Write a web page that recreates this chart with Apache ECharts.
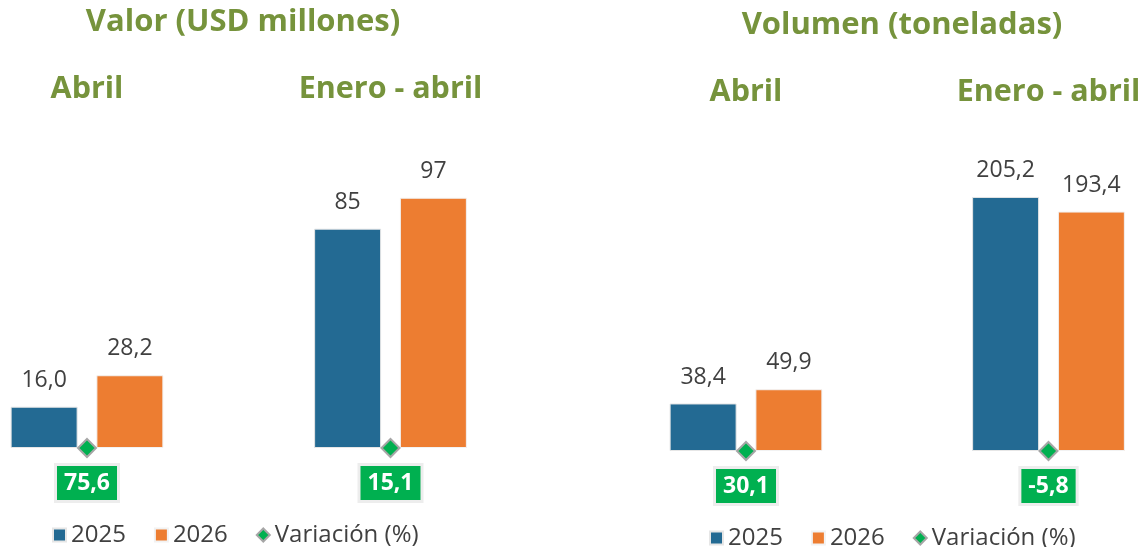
<!DOCTYPE html>
<html>
<head>
<meta charset="utf-8">
<style>
  html, body { margin: 0; padding: 0; background: #fff; }
  #main { width: 1145px; height: 547px; }
</style>
</head>
<body>
<div id="main"></div>
<script src="https://cdn.jsdelivr.net/npm/echarts@6/dist/echarts.min.js"></script>
<script>
// datos
var groups = ['Abril', 'Enero - abril'];
var valor2025 = [16.0, 85];
var valor2026 = [28.2, 97];
var valorVar = [75.6, 15.1];
var valorDecimals = [1, 0];
var volumen2025 = [38.4, 205.2];
var volumen2026 = [49.9, 193.4];
var volumenVar = [30.1, -5.8];
var volumenDecimals = [1, 1];

var BLUE = '#236A93', ORANGE = '#ED7D31', GREEN = '#00B050', TITLE = '#76933C', TEXT = '#404040';
var FONT = 'Open Sans';

function fmt(v, d) {
    return v.toFixed(d).replace('.', ',');
}

var chart = echarts.init(document.getElementById('main'));

// paneles: centro de cada grupo, base, escala
var panels = [
    { centers: [87, 390.5], top: 110, bottom: 99, max: 131,
      a: valor2025, b: valor2026, v: valorVar, dec: valorDecimals },
    { centers: [746, 1048.5], top: 113, bottom: 96, max: 273,
      a: volumen2025, b: volumen2026, v: volumenVar, dec: volumenDecimals }
];

var grids = [], xAxes = [], yAxes = [], series = [];
panels.forEach(function (p) {
    groups.forEach(function (g, i) {
        var idx = grids.length;
        grids.push({ left: p.centers[i] - 85, width: 170, top: p.top, bottom: p.bottom });
        xAxes.push({
            type: 'category', gridIndex: idx, data: [g], position: 'top',
            axisLine: { show: false }, axisTick: { show: false },
            axisLabel: { color: TITLE, fontSize: 30.5, fontWeight: 'bold', fontFamily: FONT, margin: 5 }
        });
        yAxes.push({ type: 'value', gridIndex: idx, min: 0, max: p.max, show: false, splitLine: { show: false } });
        var lbl = function (d) {
            return {
                show: true, position: 'top', distance: 15, color: TEXT, fontSize: 23, fontFamily: FONT,
                formatter: function () { return fmt(d, p.dec[i]); }
            };
        };
        series.push({
            name: '2025', type: 'bar', xAxisIndex: idx, yAxisIndex: idx,
            data: [p.a[i]], barWidth: 67, barGap: '28%',
            itemStyle: { color: BLUE, borderColor: '#E6E6E6', borderWidth: 1 },
            label: lbl(p.a[i])
        });
        series.push({
            name: '2026', type: 'bar', xAxisIndex: idx, yAxisIndex: idx,
            data: [p.b[i]], barWidth: 67, barGap: '28%',
            itemStyle: { color: ORANGE, borderColor: '#F2F2F2', borderWidth: 1 },
            label: lbl(p.b[i])
        });
        series.push({
            name: 'Variación (%)', type: 'scatter', xAxisIndex: idx, yAxisIndex: idx,
            data: [0], symbol: 'diamond', symbolSize: 18, clip: false, z: 5,
            itemStyle: { color: GREEN, borderColor: '#A6A6A6', borderWidth: 2, opacity: 1 },
            label: {
                show: true, position: 'bottom', distance: 8,
                color: '#fff', fontSize: 23, fontWeight: 'bold', fontFamily: FONT,
                backgroundColor: GREEN, borderColor: '#EDEDED', borderWidth: 3,
                padding: [6, 7, 5, 7],
                formatter: function () { return fmt(p.v[i], 1); }
            }
        });
    });
});

var legendData = [
    { name: '2025', icon: 'rect' },
    { name: '2026', icon: 'rect' },
    { name: 'Variación (%)', icon: 'diamond' }
];
var legendBase = {
    data: legendData, itemWidth: 13, itemHeight: 13, itemGap: 28,
    textStyle: { color: TEXT, fontSize: 24, fontFamily: FONT },
    selectedMode: false
};

var option = {
    animation: false,
    title: [
        { text: 'Valor (USD millones)', left: 238, top: 2, textAlign: 'center',
          textStyle: { color: TITLE, fontSize: 31, fontWeight: 'bold', fontFamily: FONT } },
        { text: 'Volumen (toneladas)', left: 897, top: 5, textAlign: 'center',
          textStyle: { color: TITLE, fontSize: 31, fontWeight: 'bold', fontFamily: FONT } }
    ],
    legend: [
        Object.assign({ left: 47, top: 518 }, legendBase),
        Object.assign({ left: 704, top: 521 }, legendBase)
    ],
    grid: grids,
    xAxis: xAxes,
    yAxis: yAxes,
    series: series
};
chart.setOption(option);
</script>
</body>
</html>
